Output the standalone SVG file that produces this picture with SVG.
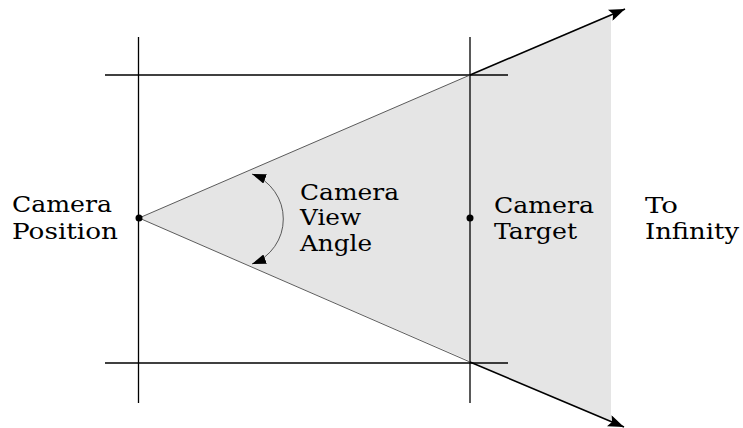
<svg xmlns="http://www.w3.org/2000/svg" width="743" height="428" viewBox="0 0 743 428">
<style>
.t{font-family:"DejaVu Serif","Liberation Serif",serif;font-size:22px;fill:#000}
.g{stroke:#000;stroke-width:1.3;fill:none}
.c{stroke:#333;stroke-width:0.8;fill:none}
.a{stroke:#000;stroke-width:1.6;fill:none}
</style>
<defs>
<marker id="ah" viewBox="0 0 14 10" refX="14" refY="5" markerWidth="14" markerHeight="10" markerUnits="userSpaceOnUse" orient="auto-start-reverse">
<path d="M0,0 L14,5 L0,10 Z" fill="#000"/>
</marker>
<marker id="big" viewBox="0 0 16 12" refX="16" refY="6" markerWidth="16" markerHeight="12" markerUnits="userSpaceOnUse" orient="auto">
<path d="M0,0 L16,6 L0,12 L3,6 Z" fill="#000"/>
</marker>
</defs>
<polygon points="139,218 611,14 611,422" fill="#e5e5e5"/>
<g id="connectors">
<line class="g" x1="138.5" y1="37" x2="138.5" y2="403"/>
<line class="g" x1="470" y1="37" x2="470" y2="403"/>
<line class="g" x1="105" y1="75" x2="508" y2="75"/>
<line class="g" x1="105" y1="363" x2="508" y2="363"/>
<line class="c" x1="139" y1="218" x2="470" y2="75"/>
<line class="c" x1="139" y1="218" x2="470" y2="362"/>
<line class="a" x1="470" y1="75" x2="625" y2="9" marker-end="url(#big)"/>
<line class="a" x1="470" y1="362" x2="624" y2="427" marker-end="url(#big)"/>
<path class="c" d="M 252 174 A 48 48 0 0 1 252 264" marker-start="url(#ah)" marker-end="url(#ah)"/>
</g>
<g id="camera-position">
<circle cx="139" cy="218" r="3.5" fill="#000"/>
<text class="t" x="12" y="212" textLength="100" lengthAdjust="spacingAndGlyphs">Camera</text>
<text class="t" x="12" y="238.5" textLength="106" lengthAdjust="spacingAndGlyphs">Position</text>
</g>
<g id="camera-view-angle">
<text class="t" x="300" y="199.5" textLength="99" lengthAdjust="spacingAndGlyphs">Camera</text>
<text class="t" x="300" y="225" textLength="61" lengthAdjust="spacingAndGlyphs">View</text>
<text class="t" x="300" y="250.5" textLength="72" lengthAdjust="spacingAndGlyphs">Angle</text>
</g>
<g id="camera-target">
<circle cx="470" cy="218" r="3.5" fill="#000"/>
<text class="t" x="494" y="212.5" textLength="100" lengthAdjust="spacingAndGlyphs">Camera</text>
<text class="t" x="494" y="239" textLength="83" lengthAdjust="spacingAndGlyphs">Target</text>
</g>
<g id="to-infinity">
<text class="t" x="645" y="212.5" textLength="33" lengthAdjust="spacingAndGlyphs">To</text>
<text class="t" x="645" y="239" textLength="94" lengthAdjust="spacingAndGlyphs">Infinity</text>
</g>
</svg>
